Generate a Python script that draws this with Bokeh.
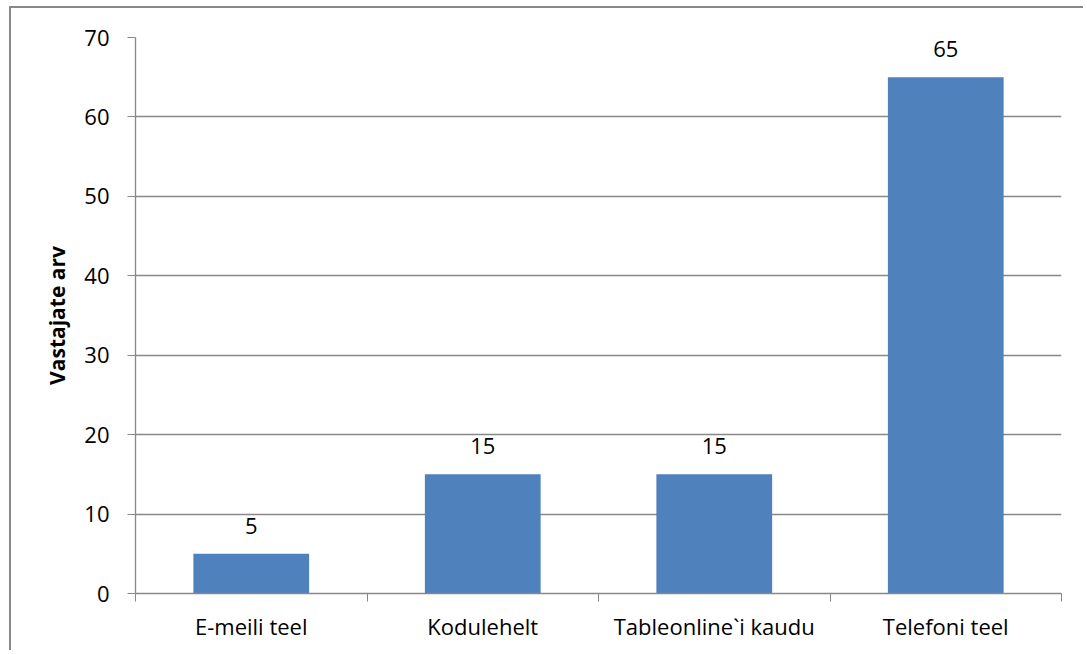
from bokeh.plotting import figure
from bokeh.models import FixedTicker, Range1d, ColumnDataSource, LabelSet
from bokeh.core.properties import value
from bokeh.embed import file_html
from bokeh.resources import INLINE

categories = ["E-meili teel", "Kodulehelt", "Tableonline`i kaudu", "Telefoni teel"]
values = [5, 15, 15, 65]
y_ticks = [0, 10, 20, 30, 40, 50, 60, 70]

FONT = "Open Sans"
GRAY = "#888888"
BAR = "#4F81BD"

xs = [i + 0.5 for i in range(len(categories))]
src = ColumnDataSource(dict(x=xs, top=values, label=[str(v) for v in values]))

# page offset of the chart border (the chart area is drawn inside a thin gray frame)
OFF_L, OFF_T, BW = 9, 6, 2
W, H = 1074, 644

p = figure(width=W, height=H,
           output_backend="svg", toolbar_location=None,
           x_range=Range1d(0, len(categories)), y_range=Range1d(0, 70),
           min_border_left=135 - OFF_L - BW,
           min_border_right=W - (1061 - OFF_L - BW),
           min_border_top=37 - OFF_T - BW,
           min_border_bottom=OFF_T + BW + H - 593)
p.styles = {"position": "absolute", "left": f"{OFF_L}px", "top": f"{OFF_T}px",
            "width": f"{W}px", "height": f"{H}px",
            "border-left": f"{BW}px solid {GRAY}", "border-top": f"{BW}px solid {GRAY}"}
p.outline_line_color = None
p.background_fill_color = "white"
p.border_fill_color = "white"

p.vbar(x="x", top="top", width=0.5, source=src, fill_color=BAR, line_color=None)

labels = LabelSet(x="x", y="top", text="label", source=src, text_align="center",
                  text_baseline="bottom", y_offset=20, text_font=value(FONT),
                  text_font_size=value("22px"), text_color=value("black"))
p.add_layout(labels)

# y axis
p.yaxis.ticker = FixedTicker(ticks=y_ticks, minor_ticks=[])
p.yaxis.axis_line_color = GRAY
p.yaxis.axis_line_width = 1.3
p.yaxis.major_tick_line_color = GRAY
p.yaxis.major_tick_out = 8
p.yaxis.major_tick_in = 0
p.yaxis.minor_tick_line_color = None
p.yaxis.major_label_text_font = FONT
p.yaxis.major_label_text_font_size = "22px"
p.yaxis.major_label_text_color = "black"
p.yaxis.major_label_standoff = 18
p.yaxis.axis_label = "Vastajate arv"
p.yaxis.axis_label_text_font = FONT
p.yaxis.axis_label_text_font_size = "21px"
p.yaxis.axis_label_text_font_style = "bold"
p.yaxis.axis_label_text_color = "black"
p.yaxis.axis_label_standoff = 10

# x axis: labels at centres, ticks at category boundaries
p.xaxis.ticker = FixedTicker(ticks=xs, minor_ticks=list(range(len(categories) + 1)))
p.xaxis.major_label_overrides = {x: c for x, c in zip(xs, categories)}
p.xaxis.axis_line_color = GRAY
p.xaxis.axis_line_width = 1.3
p.xaxis.major_tick_line_color = None
p.xaxis.major_tick_out = 0
p.xaxis.major_tick_in = 0
p.xaxis.minor_tick_line_color = GRAY
p.xaxis.minor_tick_out = 8
p.xaxis.minor_tick_in = 0
p.xaxis.major_label_text_font = FONT
p.xaxis.major_label_text_font_size = "22px"
p.xaxis.major_label_text_color = "black"
p.xaxis.major_label_standoff = 9

p.xgrid.grid_line_color = None
p.ygrid.grid_line_color = GRAY
p.ygrid.grid_line_width = 1.3

open("out.html", "w").write(file_html(p, INLINE))
